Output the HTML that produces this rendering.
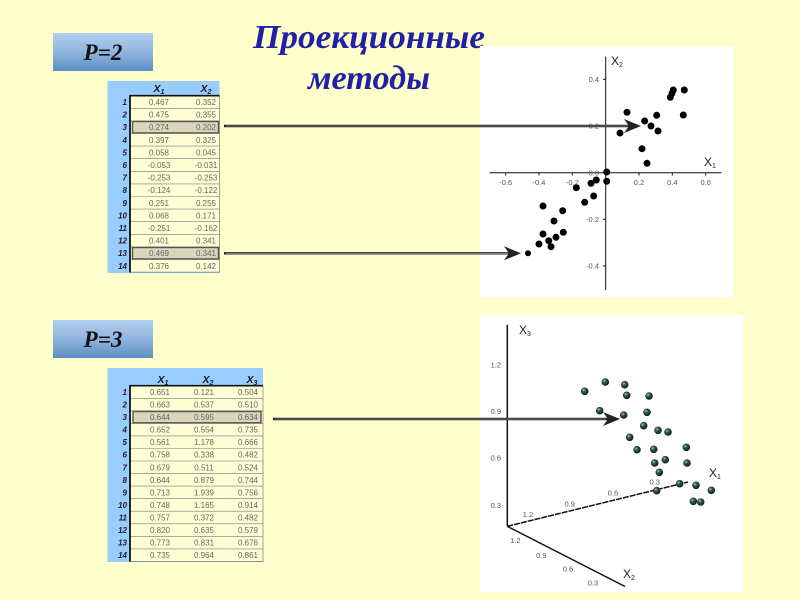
<!DOCTYPE html>
<html><head><meta charset="utf-8"><style>html,body{margin:0;padding:0;background:#ffffcc;}svg{display:block}</style></head>
<body>
<svg width="800" height="600" viewBox="0 0 800 600" xmlns="http://www.w3.org/2000/svg">
<defs>
<linearGradient id="pg" x1="0" y1="0" x2="0" y2="1"><stop offset="0" stop-color="#b3d0ee"/><stop offset="0.5" stop-color="#8fb5de"/><stop offset="1" stop-color="#5d8ec3"/></linearGradient>
<radialGradient id="sph" cx="0.38" cy="0.35" r="0.7"><stop offset="0" stop-color="#a8c8b8"/><stop offset="0.35" stop-color="#2e5646"/><stop offset="1" stop-color="#0a1812"/></radialGradient>
</defs>
<rect width="800" height="600" fill="#ffffcc"/>

<!-- Title -->
<g font-family="Liberation Serif, serif" font-weight="bold" font-style="italic" fill="#2121a6" text-anchor="middle">
<text x="369" y="48" font-size="34" textLength="232" lengthAdjust="spacingAndGlyphs">Проекционные</text>
<text x="369" y="89" font-size="34" textLength="122" lengthAdjust="spacingAndGlyphs">методы</text>
</g>

<!-- P boxes -->
<rect x="53" y="33" width="100" height="38" fill="url(#pg)"/>
<text x="103" y="60" font-family="Liberation Serif, serif" font-weight="bold" font-style="italic" font-size="23" text-anchor="middle" fill="#111">P=2</text>
<rect x="53" y="320" width="100" height="38" fill="url(#pg)"/>
<text x="103" y="347" font-family="Liberation Serif, serif" font-weight="bold" font-style="italic" font-size="23" text-anchor="middle" fill="#111">P=3</text>

<!-- Table 1 -->
<rect x="107.5" y="81" width="112" height="192" fill="#99ccff"/>
<rect x="130" y="95.7" width="89.5" height="176.4" fill="#ffffd6" stroke="#666" stroke-width="0.6"/>
<g stroke="#777" stroke-width="0.6">
<line x1="130" x2="219.5" y1="108.3" y2="108.3"/><line x1="130" x2="219.5" y1="120.9" y2="120.9"/><line x1="130" x2="219.5" y1="133.5" y2="133.5"/><line x1="130" x2="219.5" y1="146.1" y2="146.1"/><line x1="130" x2="219.5" y1="158.7" y2="158.7"/><line x1="130" x2="219.5" y1="171.3" y2="171.3"/><line x1="130" x2="219.5" y1="183.9" y2="183.9"/><line x1="130" x2="219.5" y1="196.5" y2="196.5"/><line x1="130" x2="219.5" y1="209.1" y2="209.1"/><line x1="130" x2="219.5" y1="221.7" y2="221.7"/><line x1="130" x2="219.5" y1="234.3" y2="234.3"/><line x1="130" x2="219.5" y1="246.9" y2="246.9"/><line x1="130" x2="219.5" y1="259.5" y2="259.5"/>
</g>
<line x1="130" y1="95.7" x2="219.5" y2="95.7" stroke="#111" stroke-width="1.6"/>
<line x1="130" y1="95" x2="130" y2="272.5" stroke="#111" stroke-width="1.8"/>
<rect x="132.5" y="121.5" width="86" height="11.4" fill="#d9d6bb" stroke="#555" stroke-width="1.4"/>
<rect x="132.5" y="247.5" width="86" height="11.4" fill="#d9d6bb" stroke="#555" stroke-width="1.4"/>
<g font-family="Liberation Sans, sans-serif" font-weight="bold" font-style="italic" fill="#1a1a1a">
<text x="159" y="92" font-size="10.5" text-anchor="middle">X<tspan font-size="7" dy="2">1</tspan></text>
<text x="206" y="92" font-size="10.5" text-anchor="middle">X<tspan font-size="7" dy="2">2</tspan></text>
</g>
<g font-family="Liberation Sans, sans-serif" font-weight="bold" font-style="italic" font-size="8" fill="#222" text-anchor="end">
<text x="127" y="105">1</text><text x="127" y="117.6">2</text><text x="127" y="130.2">3</text><text x="127" y="142.8">4</text><text x="127" y="155.4">5</text><text x="127" y="168">6</text><text x="127" y="180.6">7</text><text x="127" y="193.2">8</text><text x="127" y="205.8">9</text><text x="127" y="218.4">10</text><text x="127" y="231">11</text><text x="127" y="243.6">12</text><text x="127" y="256.2">13</text><text x="127" y="268.8">14</text>
</g>
<g font-family="Liberation Sans, sans-serif" font-size="8" fill="#666" text-anchor="middle">
<text x="159" y="105">0.467</text><text x="206" y="105">0.352</text>
<text x="159" y="117.6">0.475</text><text x="206" y="117.6">0.355</text>
<text x="159" y="130.2">0.274</text><text x="206" y="130.2">0.202</text>
<text x="159" y="142.8">0.397</text><text x="206" y="142.8">0.325</text>
<text x="159" y="155.4">0.058</text><text x="206" y="155.4">0.045</text>
<text x="159" y="168">-0.053</text><text x="206" y="168">-0.031</text>
<text x="159" y="180.6">-0.253</text><text x="206" y="180.6">-0.253</text>
<text x="159" y="193.2">-0.124</text><text x="206" y="193.2">-0.122</text>
<text x="159" y="205.8">0.251</text><text x="206" y="205.8">0.255</text>
<text x="159" y="218.4">0.068</text><text x="206" y="218.4">0.171</text>
<text x="159" y="231">-0.251</text><text x="206" y="231">-0.162</text>
<text x="159" y="243.6">0.401</text><text x="206" y="243.6">0.341</text>
<text x="159" y="256.2">0.469</text><text x="206" y="256.2">0.341</text>
<text x="159" y="268.8">0.376</text><text x="206" y="268.8">0.142</text>
</g>

<!-- Table 2 -->
<rect x="107.5" y="368" width="155.5" height="194" fill="#99ccff"/>
<rect x="130" y="385.7" width="133" height="175.7" fill="#ffffd6" stroke="#666" stroke-width="0.6"/>
<g stroke="#777" stroke-width="0.6">
<line x1="130" x2="263" y1="398.3" y2="398.3"/><line x1="130" x2="263" y1="410.8" y2="410.8"/><line x1="130" x2="263" y1="423.4" y2="423.4"/><line x1="130" x2="263" y1="435.9" y2="435.9"/><line x1="130" x2="263" y1="448.5" y2="448.5"/><line x1="130" x2="263" y1="461" y2="461"/><line x1="130" x2="263" y1="473.6" y2="473.6"/><line x1="130" x2="263" y1="486.1" y2="486.1"/><line x1="130" x2="263" y1="498.7" y2="498.7"/><line x1="130" x2="263" y1="511.2" y2="511.2"/><line x1="130" x2="263" y1="523.8" y2="523.8"/><line x1="130" x2="263" y1="536.3" y2="536.3"/><line x1="130" x2="263" y1="548.9" y2="548.9"/>
</g>
<line x1="130" y1="385.7" x2="263" y2="385.7" stroke="#111" stroke-width="1.6"/>
<line x1="130" y1="385" x2="130" y2="561.5" stroke="#111" stroke-width="1.8"/>
<rect x="133" y="411.5" width="128" height="11.3" fill="#d9d6bb" stroke="#555" stroke-width="1.4"/>
<g font-family="Liberation Sans, sans-serif" font-weight="bold" font-style="italic" fill="#1a1a1a">
<text x="163" y="383" font-size="10.5" text-anchor="middle">X<tspan font-size="7" dy="2">1</tspan></text>
<text x="208" y="383" font-size="10.5" text-anchor="middle">X<tspan font-size="7" dy="2">2</tspan></text>
<text x="252" y="383" font-size="10.5" text-anchor="middle">X<tspan font-size="7" dy="2">3</tspan></text>
</g>
<g font-family="Liberation Sans, sans-serif" font-weight="bold" font-style="italic" font-size="8" fill="#222" text-anchor="end">
<text x="127" y="395">1</text><text x="127" y="407.5">2</text><text x="127" y="420.1">3</text><text x="127" y="432.6">4</text><text x="127" y="445.2">5</text><text x="127" y="457.7">6</text><text x="127" y="470.3">7</text><text x="127" y="482.8">8</text><text x="127" y="495.4">9</text><text x="127" y="507.9">10</text><text x="127" y="520.5">11</text><text x="127" y="533">12</text><text x="127" y="545.6">13</text><text x="127" y="558.1">14</text>
</g>
<g font-family="Liberation Sans, sans-serif" font-size="8" fill="#666" text-anchor="middle">
<text x="160" y="395">0.651</text><text x="204" y="395">0.121</text><text x="248" y="395">0.504</text>
<text x="160" y="407.5">0.663</text><text x="204" y="407.5">0.537</text><text x="248" y="407.5">0.510</text>
<text x="160" y="420.1">0.644</text><text x="204" y="420.1">0.595</text><text x="248" y="420.1">0.634</text>
<text x="160" y="432.6">0.652</text><text x="204" y="432.6">0.554</text><text x="248" y="432.6">0.735</text>
<text x="160" y="445.2">0.561</text><text x="204" y="445.2">1.178</text><text x="248" y="445.2">0.666</text>
<text x="160" y="457.7">0.758</text><text x="204" y="457.7">0.338</text><text x="248" y="457.7">0.482</text>
<text x="160" y="470.3">0.679</text><text x="204" y="470.3">0.511</text><text x="248" y="470.3">0.524</text>
<text x="160" y="482.8">0.644</text><text x="204" y="482.8">0.879</text><text x="248" y="482.8">0.744</text>
<text x="160" y="495.4">0.713</text><text x="204" y="495.4">1.939</text><text x="248" y="495.4">0.756</text>
<text x="160" y="507.9">0.748</text><text x="204" y="507.9">1.165</text><text x="248" y="507.9">0.914</text>
<text x="160" y="520.5">0.757</text><text x="204" y="520.5">0.372</text><text x="248" y="520.5">0.482</text>
<text x="160" y="533">0.820</text><text x="204" y="533">0.635</text><text x="248" y="533">0.579</text>
<text x="160" y="545.6">0.773</text><text x="204" y="545.6">0.831</text><text x="248" y="545.6">0.676</text>
<text x="160" y="558.1">0.735</text><text x="204" y="558.1">0.964</text><text x="248" y="558.1">0.861</text>
</g>

<!-- Chart 1 box -->
<rect x="480" y="46" width="253" height="251" fill="#ffffff"/>
<g stroke="#111" stroke-width="1">
<line x1="489.5" y1="172.7" x2="721.5" y2="172.7"/>
<line x1="605.7" y1="56.5" x2="605.7" y2="290"/>
<line x1="505.7" y1="172.7" x2="505.7" y2="175.5"/><line x1="539" y1="172.7" x2="539" y2="175.5"/><line x1="572.3" y1="172.7" x2="572.3" y2="175.5"/><line x1="639" y1="172.7" x2="639" y2="175.5"/><line x1="672.3" y1="172.7" x2="672.3" y2="175.5"/><line x1="705.7" y1="172.7" x2="705.7" y2="175.5"/>
<line x1="603" y1="79.3" x2="605.7" y2="79.3"/><line x1="603" y1="126" x2="605.7" y2="126"/><line x1="603" y1="219.3" x2="605.7" y2="219.3"/><line x1="603" y1="266" x2="605.7" y2="266"/>
</g>
<g font-family="Liberation Sans, sans-serif" font-size="7.5" fill="#555" text-anchor="middle">
<text x="505.7" y="185">-0.6</text><text x="539" y="185">-0.4</text><text x="572.3" y="185">-0.2</text><text x="639" y="185">0.2</text><text x="672.3" y="185">0.4</text><text x="705.7" y="185">0.6</text>
</g>
<g font-family="Liberation Sans, sans-serif" font-size="7.5" fill="#555" text-anchor="end">
<text x="599" y="82">0.4</text><text x="599" y="128.7">0.2</text><text x="599" y="175.4">0.0</text><text x="599" y="222">-0.2</text><text x="599" y="268.7">-0.4</text>
</g>
<g font-family="Liberation Sans, sans-serif" font-size="12" fill="#222">
<text x="611" y="65">X<tspan font-size="7" dy="2">2</tspan></text>
<text x="704" y="166">X<tspan font-size="7" dy="2">1</tspan></text>
</g>
<g fill="#000">
<circle cx="627" cy="112.3" r="3.5"/><circle cx="644.7" cy="121" r="3.5"/><circle cx="656.7" cy="115.3" r="3.5"/><circle cx="651" cy="126" r="3.5"/><circle cx="658" cy="131" r="3.5"/><circle cx="620" cy="133" r="3.5"/><circle cx="642" cy="148.7" r="3.5"/><circle cx="647" cy="163.3" r="3.5"/><circle cx="670.3" cy="97.3" r="3.5"/><circle cx="672" cy="93.3" r="3.5"/><circle cx="673.3" cy="90" r="3.5"/><circle cx="684.3" cy="90" r="3.5"/><circle cx="683.3" cy="115" r="3.5"/>
<circle cx="606.7" cy="172" r="3.5"/><circle cx="606.7" cy="181.3" r="3.5"/><circle cx="596.3" cy="180" r="3.5"/><circle cx="591" cy="183.3" r="3.5"/><circle cx="593.7" cy="196" r="3.5"/><circle cx="584.7" cy="202.3" r="3.5"/><circle cx="576.3" cy="187.7" r="3.5"/><circle cx="562.7" cy="210.7" r="3.5"/><circle cx="554" cy="221" r="3.5"/><circle cx="563.3" cy="232.3" r="3.5"/><circle cx="543" cy="206" r="3.5"/><circle cx="543" cy="234" r="3.5"/><circle cx="539" cy="244" r="3.5"/><circle cx="548.7" cy="240.7" r="3.5"/><circle cx="551" cy="246.7" r="3.5"/><circle cx="556" cy="237.3" r="3.5"/><circle cx="528" cy="253.3" r="3"/>
</g>

<!-- Chart 2 box -->
<rect x="480" y="315" width="263" height="277" fill="#ffffff"/>
<g stroke="#111" stroke-width="1.5" fill="none">
<line x1="507.3" y1="324.7" x2="507.3" y2="526.3"/>
<line x1="507.3" y1="526.3" x2="688" y2="482" stroke-dasharray="6,1"/>
<line x1="507.3" y1="526.3" x2="625" y2="586.5"/>
</g>
<g font-family="Liberation Sans, sans-serif" font-size="7.5" fill="#555">
<text x="501" y="367.5" text-anchor="end">1.2</text><text x="501" y="414" text-anchor="end">0.9</text><text x="501" y="460.7" text-anchor="end">0.6</text><text x="501" y="508" text-anchor="end">0.3</text>
<text x="528" y="517" text-anchor="middle">1.2</text><text x="569.7" y="506.7" text-anchor="middle">0.9</text><text x="613" y="495.7" text-anchor="middle">0.6</text><text x="654.7" y="484.7" text-anchor="middle">0.3</text>
<text x="515.3" y="543" text-anchor="middle">1.2</text><text x="541.3" y="558" text-anchor="middle">0.9</text><text x="568" y="571.7" text-anchor="middle">0.6</text><text x="593" y="585.7" text-anchor="middle">0.3</text>
</g>
<g font-family="Liberation Sans, sans-serif" font-size="12" fill="#222">
<text x="519" y="334">X<tspan font-size="7" dy="2">3</tspan></text>
<text x="709" y="477">X<tspan font-size="7" dy="2">1</tspan></text>
<text x="623" y="578">X<tspan font-size="7" dy="2">2</tspan></text>
</g>
<g fill="url(#sph)">
<circle cx="584.7" cy="391.3" r="3.8"/><circle cx="605.3" cy="382" r="3.8"/><circle cx="624.7" cy="384.7" r="3.8"/><circle cx="626.7" cy="395.3" r="3.8"/><circle cx="649" cy="396" r="3.8"/><circle cx="599.7" cy="410.7" r="3.8"/><circle cx="623.7" cy="415" r="3.8"/><circle cx="647" cy="412.3" r="3.8"/><circle cx="643.7" cy="425.7" r="3.8"/><circle cx="658" cy="430.3" r="3.8"/><circle cx="668" cy="432" r="3.8"/><circle cx="629.7" cy="437.3" r="3.8"/><circle cx="637" cy="449.7" r="3.8"/><circle cx="653.7" cy="449.3" r="3.8"/><circle cx="686.3" cy="447.3" r="3.8"/><circle cx="654.7" cy="463" r="3.8"/><circle cx="665.3" cy="459.7" r="3.8"/><circle cx="687" cy="463" r="3.8"/><circle cx="659.3" cy="472.3" r="3.8"/><circle cx="656.7" cy="490.7" r="3.8"/><circle cx="679.7" cy="483.7" r="3.8"/><circle cx="696" cy="485.3" r="3.8"/><circle cx="711.3" cy="490.3" r="3.8"/><circle cx="693.3" cy="501.3" r="3.8"/><circle cx="700.7" cy="502" r="3.8"/>
</g>

<!-- Arrows -->
<g stroke="#222" stroke-width="2.4">
<line x1="224" y1="126" x2="632" y2="126"/>
<line x1="224" y1="253.3" x2="512" y2="253.3"/>
<line x1="273" y1="419" x2="610" y2="419"/>
</g>
<g stroke="#bbb" stroke-width="0.6">
<line x1="226" y1="126" x2="628" y2="126"/>
<line x1="226" y1="253.3" x2="508" y2="253.3"/>
<line x1="275" y1="419" x2="606" y2="419"/>
</g>
<g fill="#222">
<polygon points="641,126 624,119 629,126 624,133"/>
<polygon points="521,253.3 504,246.3 509,253.3 504,260.3"/>
<polygon points="620,419 603,412 608,419 603,426"/>
</g>
</svg>
</body></html>
